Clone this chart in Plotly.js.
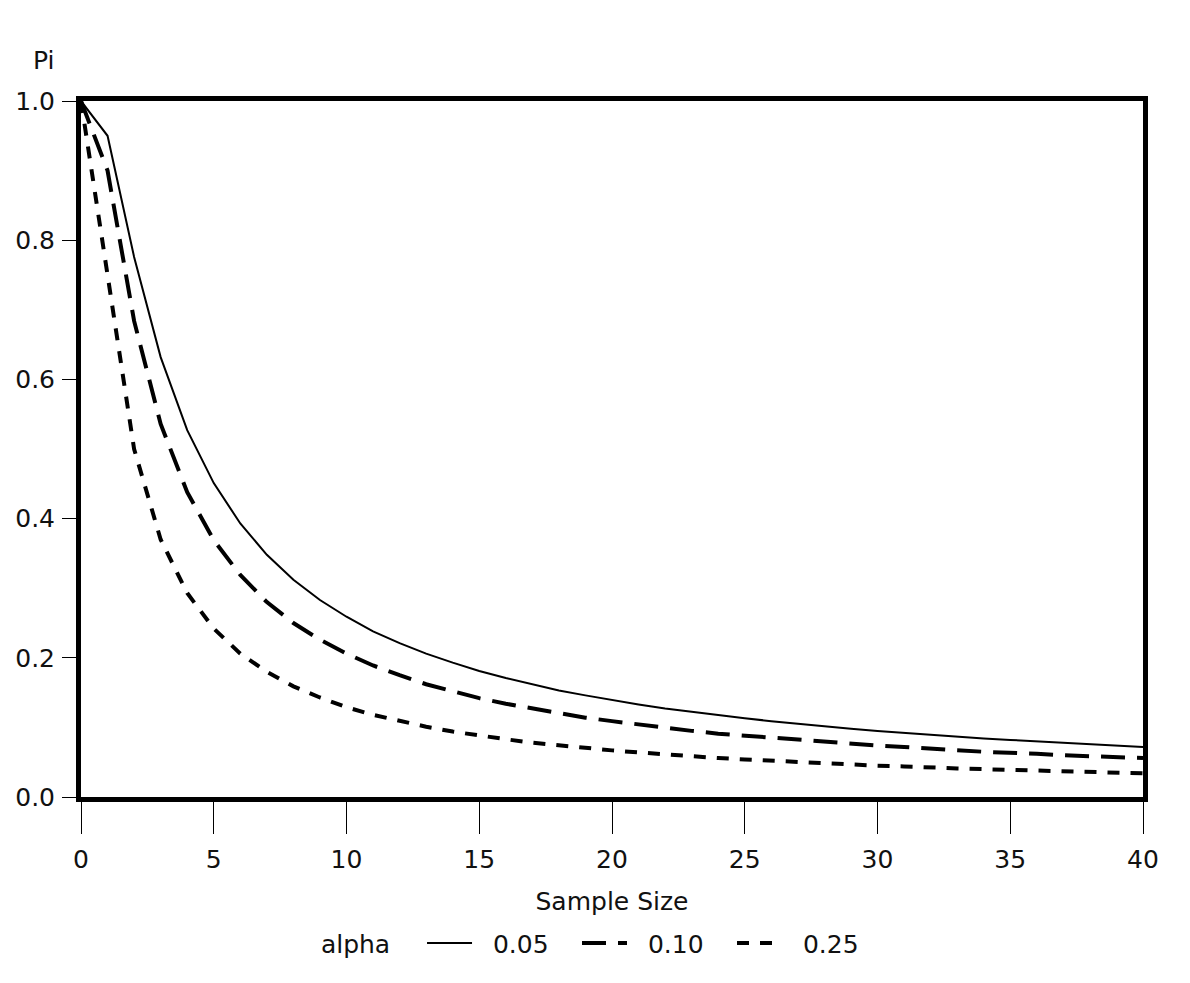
<!DOCTYPE html>
<html>
<head>
<meta charset="utf-8">
<script src="https://cdn.plot.ly/plotly-3.0.1.min.js"></script>
<style>
  body { margin: 0; background: #fff; }
  #chart { width: 1190px; height: 983px; }
</style>
</head>
<body>
<div id="chart"></div>
<script>
    'use strict';

    // sample sizes 0..40
    var sampleSize = [0, 1, 2, 3, 4, 5, 6, 7, 8, 9, 10, 11, 12, 13, 14, 15, 16, 17, 18, 19, 20,
        21, 22, 23, 24, 25, 26, 27, 28, 29, 30, 31, 32, 33, 34, 35, 36, 37, 38, 39, 40];

    var pi005 = [1.0, 0.950, 0.776, 0.632, 0.527, 0.451, 0.393, 0.348, 0.312, 0.283, 0.259,
        0.238, 0.221, 0.206, 0.193, 0.181, 0.171, 0.162, 0.153, 0.146, 0.139,
        0.133, 0.127, 0.122, 0.117, 0.113, 0.109, 0.105, 0.101, 0.098, 0.095,
        0.092, 0.089, 0.087, 0.084, 0.082, 0.080, 0.078, 0.076, 0.074, 0.072];

    var pi010 = [1.0, 0.900, 0.684, 0.536, 0.438, 0.369, 0.319, 0.280, 0.250, 0.226, 0.206,
        0.189, 0.175, 0.162, 0.152, 0.142, 0.134, 0.127, 0.120, 0.114, 0.109,
        0.104, 0.099, 0.095, 0.091, 0.088, 0.085, 0.082, 0.079, 0.076, 0.074,
        0.072, 0.069, 0.067, 0.065, 0.064, 0.062, 0.060, 0.059, 0.057, 0.056];

    var pi025 = [1.0, 0.750, 0.500, 0.370, 0.293, 0.242, 0.206, 0.180, 0.159, 0.143, 0.129,
        0.118, 0.109, 0.101, 0.094, 0.088, 0.083, 0.078, 0.074, 0.070, 0.067,
        0.064, 0.061, 0.058, 0.056, 0.054, 0.052, 0.050, 0.048, 0.047, 0.045,
        0.044, 0.042, 0.041, 0.040, 0.039, 0.038, 0.037, 0.036, 0.035, 0.034];

    var alphaLabels = ['0.05', '0.10', '0.25'];
    var xTicks = [0, 5, 10, 15, 20, 25, 30, 35, 40];
    var yTicks = [0, 0.2, 0.4, 0.6, 0.8, 1.0];

    var fontFamily = 'DejaVu Sans, sans-serif';
    var fontSize = 25;
    var pad = '\u00a0\u00a0';

    var traces = [
        {
            x: sampleSize, y: pi005, name: pad + alphaLabels[0], mode: 'lines',
            line: { color: '#000', width: 2 }
        },
        {
            x: sampleSize, y: pi010, name: pad + alphaLabels[1], mode: 'lines',
            line: { color: '#000', width: 4, dash: '24px,12px' }
        },
        {
            x: sampleSize, y: pi025, name: pad + alphaLabels[2], mode: 'lines',
            line: { color: '#000', width: 4, dash: '12px,11px' }
        }
    ];

    var layout = {
        width: 1190,
        height: 983,
        paper_bgcolor: '#fff',
        plot_bgcolor: '#fff',
        font: { family: fontFamily, size: fontSize, color: '#111' },
        margin: { l: 81, r: 47, t: 101, b: 186 },
        showlegend: true,
        xaxis: {
            range: [0, 40],
            tickvals: xTicks,
            ticktext: xTicks.map(String),
            ticks: 'outside',
            ticklen: 32,
            tickwidth: 1,
            tickcolor: '#000',
            ticklabelstandoff: 4,
            tickfont: { size: fontSize },
            showgrid: false,
            zeroline: false,
            showline: true,
            linewidth: 5,
            linecolor: '#000',
            mirror: true,
            title: { text: 'Sample Size', standoff: 21, font: { size: fontSize } }
        },
        yaxis: {
            range: [0, 1.0],
            tickvals: yTicks,
            ticktext: yTicks.map(function (v) { return v.toFixed(1); }),
            ticks: 'outside',
            ticklen: 14,
            tickwidth: 1,
            tickcolor: '#000',
            ticklabelstandoff: 2,
            tickfont: { size: fontSize },
            showgrid: false,
            zeroline: false,
            showline: true,
            linewidth: 5,
            linecolor: '#000',
            mirror: true
        },
        legend: {
            orientation: 'h',
            x: 0.224,
            xanchor: 'left',
            y: -0.21,
            yanchor: 'middle',
            title: { text: 'alpha   ', side: 'left', font: { size: fontSize } },
            itemwidth: 45,
            entrywidth: 95,
            font: { size: fontSize }
        },
        annotations: [
            {
                text: 'Pi',
                xref: 'paper', yref: 'paper',
                x: -0.047, y: 1.035,
                xanchor: 'left', yanchor: 'bottom',
                showarrow: false,
                font: { size: fontSize }
            }
        ]
    };

    Plotly.newPlot('chart', traces, layout, { displayModeBar: false, staticPlot: true });
</script>
</body>
</html>
